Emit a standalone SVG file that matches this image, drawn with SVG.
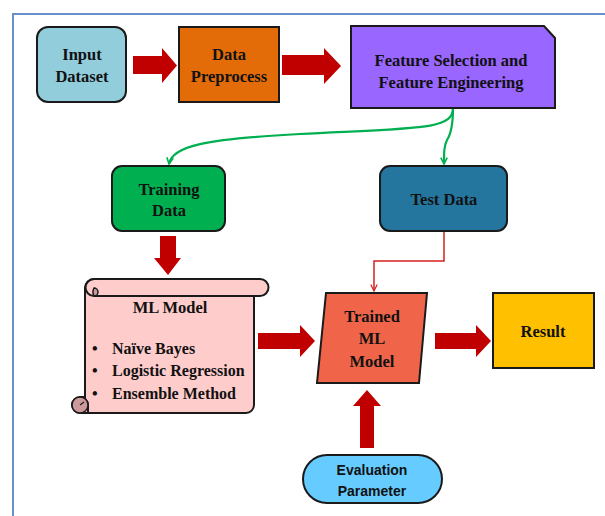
<svg xmlns="http://www.w3.org/2000/svg" width="605" height="516" viewBox="0 0 605 516">
<defs>
<style>
.box{stroke:#1a1a1a;stroke-width:2}
.t{font-family:"Liberation Serif","Times New Roman",serif;font-weight:bold;font-size:16.5px;fill:#111;text-anchor:middle}
.tl{font-family:"Liberation Serif","Times New Roman",serif;font-weight:bold;font-size:16px;fill:#111}
.s{font-family:"Liberation Sans",Arial,sans-serif;font-weight:bold;font-size:14px;fill:#111;text-anchor:middle}
.big{fill:#C00000}
.g{fill:none;stroke:#00B050;stroke-width:2.2}
.r{fill:none;stroke:#D42020;stroke-width:1.5}
</style>
<marker id="ga" viewBox="0 0 10 10" refX="9" refY="5" markerWidth="8" markerHeight="8" orient="auto" markerUnits="userSpaceOnUse">
<path d="M1,1 L9,5 L1,9" fill="none" stroke="#00B050" stroke-width="2"/>
</marker>
<marker id="ra" viewBox="0 0 10 10" refX="9" refY="5" markerWidth="8" markerHeight="8" orient="auto" markerUnits="userSpaceOnUse">
<path d="M1,1 L9,5 L1,9" fill="none" stroke="#D42020" stroke-width="1.5"/>
</marker>
</defs>
<rect width="605" height="516" fill="#ffffff"/>
<rect x="13" y="14" width="600" height="510" fill="none" stroke="#6A8FC8" stroke-width="2"/>

<g id="connectors">
<path class="big" d="M133,56 L162,56 L162,48 L177,65.5 L162,83 L162,74 L133,74 Z"/>
<path class="big" d="M282,55 L324,55 L324,48 L341,66 L324,84 L324,75 L282,75 Z"/>
<path class="g" d="M453,108 C453,130 420,128 300,134 C205,139 172,146 169,164" marker-end="url(#ga)"/>
<path class="g" d="M453,108 C453,125 451,134 447,140 C444,146 444,152 444,164" marker-end="url(#ga)"/>
<path class="big" d="M160,236 L176,236 L176,258 L181,258 L168,275 L154,258 L160,258 Z"/>
<path class="r" d="M444,231 L444,261 L374,261 L374,291" marker-end="url(#ra)"/>
<path class="big" d="M258,333 L300,333 L300,325 L315,341 L300,357 L300,349 L258,349 Z"/>
<path class="big" d="M435,333 L476,333 L476,325 L491,341 L476,357 L476,349 L435,349 Z"/>
<path class="big" d="M360,448 L360,406 L353,406 L367,390 L381,406 L374,406 L374,448 Z"/>
</g>

<g id="input-dataset">
<rect class="box" x="37" y="27" width="89" height="75" rx="11" fill="#92CDDC"/>
<text class="t" x="82" y="60">Input</text>
<text class="t" x="82" y="82">Dataset</text>
</g>

<g id="data-preprocess">
<rect class="box" x="179" y="27" width="100" height="75" fill="#E36C09"/>
<text class="t" x="229" y="60">Data</text>
<text class="t" x="229" y="82">Preprocess</text>
</g>

<g id="feature-selection">
<path class="box" d="M351,26 L544,26 L555,38 L555,108 L351,108 Z" fill="#9966FF"/>
<text class="t" x="451" y="66">Feature Selection and</text>
<text class="t" x="451" y="88">Feature Engineering</text>
</g>

<g id="training-data">
<rect class="box" x="112" y="166" width="113" height="65" rx="10" fill="#00B050"/>
<text class="t" x="169" y="195">Training</text>
<text class="t" x="169" y="216">Data</text>
</g>

<g id="test-data">
<rect class="box" x="380" y="166" width="127" height="65" rx="10" fill="#24769F"/>
<text class="t" x="444" y="205">Test Data</text>
</g>

<g id="ml-model">
<path class="box" d="M85,288 A9,9 0 0 1 94,279 L260,279 A8.5,8.5 0 0 1 260,296 L254,296 L254,405 A8,8 0 0 1 246,413 L80,413 A8,8 0 0 1 80,397 L85,397 Z" fill="#FFCCCC"/>
<path d="M94,296 L254,296" stroke="#1a1a1a" stroke-width="2" fill="none"/>
<path d="M94,279 A8.5,8.5 0 0 0 94,296" fill="none" stroke="#1a1a1a" stroke-width="2"/>
<path d="M94,288 A4,4 0 0 1 98,292 A4,4 0 0 1 94,296 A8.5,8.5 0 0 1 94,288 Z" fill="#CC9A9A" stroke="#1a1a1a" stroke-width="1.5"/>
<path d="M80,397 A8,8 0 0 1 88,405 L88,412" fill="none" stroke="#1a1a1a" stroke-width="2"/>
<path d="M80,397 A8,8 0 0 0 80,413 A8,8 0 0 0 88,405 A8,8 0 0 0 80,397 Z" fill="#CC9A9A" stroke="#1a1a1a" stroke-width="1.5"/>
<path d="M80,405 L84,402" stroke="#1a1a1a" stroke-width="1.2"/>
<text class="t" x="170" y="313">ML Model</text>
<text class="tl" x="92" y="354">•</text>
<text class="tl" x="112" y="354">Naïve Bayes</text>
<text class="tl" x="92" y="376">•</text>
<text class="tl" x="112" y="376">Logistic Regression</text>
<text class="tl" x="92" y="399">•</text>
<text class="tl" x="112" y="399">Ensemble Method</text>
</g>

<g id="trained-ml-model">
<path class="box" d="M326,293 L427,293 L419,383 L317,383 Z" fill="#F0654A"/>
<text class="t" x="372" y="322">Trained</text>
<text class="t" x="372" y="344">ML</text>
<text class="t" x="372" y="367">Model</text>
</g>

<g id="result">
<rect class="box" x="493" y="293" width="101" height="75" fill="#FFC000"/>
<text class="t" x="543" y="337">Result</text>
</g>

<g id="evaluation-parameter">
<rect class="box" x="303" y="455" width="139" height="48" rx="24" fill="#66CCFF"/>
<text class="s" x="372" y="475">Evaluation</text>
<text class="s" x="372" y="496">Parameter</text>
</g>
</svg>
